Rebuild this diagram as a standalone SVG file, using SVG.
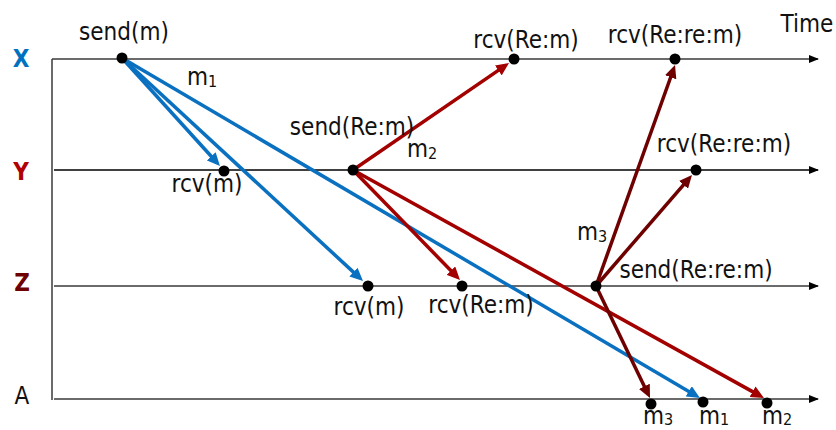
<svg xmlns="http://www.w3.org/2000/svg" width="836" height="430" viewBox="0 0 836 430">
<style>
.t{font-family:"DejaVu Sans Condensed","DejaVu Sans",sans-serif;font-stretch:condensed;font-size:24px;fill:#111}
.c{text-anchor:middle}
.sub{font-size:16px}
.lbl{font-family:"DejaVu Sans Condensed","DejaVu Sans",sans-serif;font-stretch:condensed;font-size:24px;text-anchor:middle}
.tl{stroke:#3a3a3a;stroke-width:1.5;fill:none}
.msg{stroke-width:3.5;fill:none}
.blue{stroke:#0A70C0}
.red{stroke:#A30000}
.mar{stroke:#6E0000}
.dot{fill:#000}
</style>
<defs>
<marker id="ta" markerUnits="userSpaceOnUse" markerWidth="10" markerHeight="8" refX="9" refY="4" orient="auto"><path d="M0,0 L10,4 L0,8 Z" fill="#000"/></marker>
<marker id="ab" markerUnits="userSpaceOnUse" markerWidth="14" markerHeight="12" refX="4" refY="6" orient="auto"><path d="M0,0 L13,6 L0,12 Z" fill="#0A70C0"/></marker>
<marker id="ar" markerUnits="userSpaceOnUse" markerWidth="14" markerHeight="12" refX="4" refY="6" orient="auto"><path d="M0,0 L13,6 L0,12 Z" fill="#A30000"/></marker>
<marker id="am" markerUnits="userSpaceOnUse" markerWidth="14" markerHeight="12" refX="4" refY="6" orient="auto"><path d="M0,0 L13,6 L0,12 Z" fill="#6E0000"/></marker>
</defs>
<rect width="836" height="430" fill="#fff"/>
<g id="timelines">
<line class="tl" x1="52" y1="59" x2="52" y2="400"/>
<line class="tl" x1="52" y1="59" x2="818" y2="59" marker-end="url(#ta)"/>
<line class="tl" x1="54" y1="170" x2="818" y2="170" marker-end="url(#ta)" style="stroke:#000"/>
<line class="tl" x1="54" y1="286" x2="818" y2="286" marker-end="url(#ta)"/>
<line class="tl" x1="54" y1="399" x2="818" y2="399" marker-end="url(#ta)"/>
</g>
<g id="process-labels">
<text class="lbl" x="21" y="67" font-weight="bold" fill="#0070C0">X</text>
<text class="lbl" x="21" y="180" font-weight="bold" fill="#B00000">Y</text>
<text class="lbl" x="22" y="291" font-weight="bold" fill="#6E0000">Z</text>
<text class="lbl" x="22" y="404" fill="#111">A</text>
<text class="t c" x="807" y="32">Time</text>
</g>
<g id="connectors">
<line class="msg blue" x1="122" y1="58" x2="213.9" y2="159.3" marker-end="url(#ab)"/>
<line class="msg blue" x1="122" y1="58" x2="356.4" y2="274.9" marker-end="url(#ab)"/>
<line class="msg blue" x1="122" y1="58" x2="692.2" y2="393.4" marker-end="url(#ab)"/>
<line class="msg red" x1="353" y1="170" x2="501.6" y2="68.1" marker-end="url(#ar)"/>
<line class="msg red" x1="353" y1="170" x2="453.7" y2="273.5" marker-end="url(#ar)"/>
<line class="msg red" x1="353" y1="170" x2="756.1" y2="393.6" marker-end="url(#ar)"/>
<line class="msg mar" x1="596" y1="286" x2="672.0" y2="73.5" marker-end="url(#am)"/>
<line class="msg mar" x1="596" y1="286" x2="686.1" y2="181.8" marker-end="url(#am)"/>
<line class="msg mar" x1="596" y1="286" x2="646.1" y2="389.9" marker-end="url(#am)"/>
</g>
<g id="send-m"><circle class="dot" cx="122" cy="58" r="5.5"/><text class="t c" x="124" y="40">send(m)</text></g>
<g id="rcv-m-y"><circle class="dot" cx="224" cy="171" r="5.5"/><text class="t c" x="207" y="192">rcv(m)</text></g>
<g id="rcv-m-z"><circle class="dot" cx="368" cy="286" r="5.5"/><text class="t c" x="369" y="315">rcv(m)</text></g>
<g id="send-re-m"><circle class="dot" cx="353" cy="170" r="5.5"/><text class="t c" x="352" y="135">send(Re:m)</text></g>
<g id="rcv-re-m-x"><circle class="dot" cx="514" cy="59" r="5.5"/><text class="t c" x="526" y="48">rcv(Re:m)</text></g>
<g id="rcv-re-m-z"><circle class="dot" cx="462" cy="286" r="5.5"/><text class="t c" x="481" y="313">rcv(Re:m)</text></g>
<g id="send-re-re-m"><circle class="dot" cx="596" cy="286" r="5.5"/><text class="t c" x="696" y="278">send(Re:re:m)</text></g>
<g id="rcv-re-re-m-x"><circle class="dot" cx="675" cy="59" r="5.5"/><text class="t c" x="675" y="43">rcv(Re:re:m)</text></g>
<g id="rcv-re-re-m-y"><circle class="dot" cx="696" cy="170" r="5.5"/><text class="t c" x="724" y="152">rcv(Re:re:m)</text></g>
<g id="a-m3"><circle class="dot" cx="651" cy="404" r="5.5"/><text class="t" x="643" y="424">m<tspan class="sub" dy="1">3</tspan></text></g>
<g id="a-m1"><circle class="dot" cx="703" cy="402" r="5.5"/><text class="t" x="699" y="424">m<tspan class="sub" dy="1">1</tspan></text></g>
<g id="a-m2"><circle class="dot" cx="767" cy="403" r="5.5"/><text class="t" x="762" y="424">m<tspan class="sub" dy="1">2</tspan></text></g>
<g id="msg-labels">
<text class="t" x="187" y="85">m<tspan class="sub" dy="2">1</tspan></text>
<text class="t" x="407" y="157">m<tspan class="sub" dy="2">2</tspan></text>
<text class="t" x="577" y="240">m<tspan class="sub" dy="2">3</tspan></text>
</g>
</svg>
